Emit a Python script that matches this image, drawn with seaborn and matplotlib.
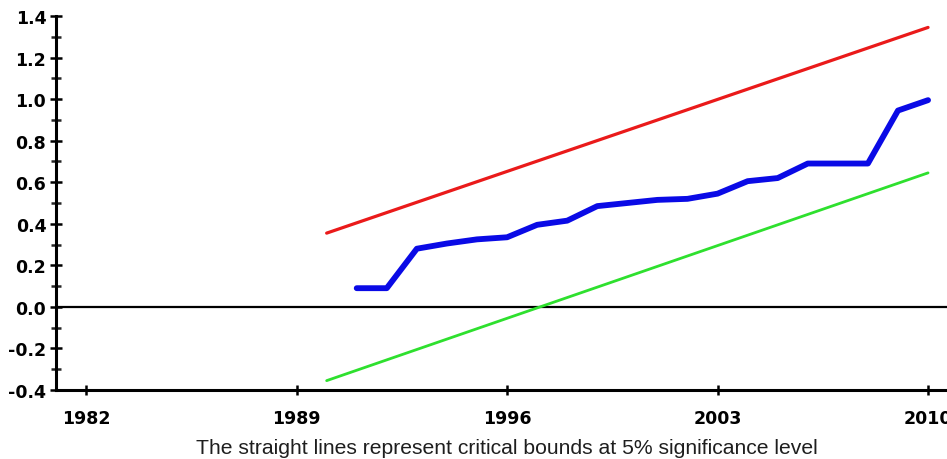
"""
CUSUM of squares test plot with 5% critical bounds.
"""

import pandas as pd
import matplotlib
matplotlib.use("Agg")
import matplotlib.pyplot as plt
from matplotlib.ticker import MultipleLocator
import seaborn as sns

# ---------------------------------------------------------------------------
# Data
# ---------------------------------------------------------------------------

BOUND_YEARS = [1990, 2010]
UPPER_BOUND = [0.355, 1.345]
LOWER_BOUND = [-0.355, 0.645]

CUSUM_YEARS = list(range(1991, 2011))
CUSUM_SQ = [0.09, 0.09, 0.28, 0.305, 0.325, 0.335, 0.395, 0.415, 0.485, 0.50,
            0.515, 0.52, 0.545, 0.605, 0.62, 0.69, 0.69, 0.69, 0.945, 0.995]

X_TICKS = [1982, 1989, 1996, 2003, 2010]
CAPTION = "The straight lines represent critical bounds at 5% significance level"


# ---------------------------------------------------------------------------
# Plot
# ---------------------------------------------------------------------------

sns.set_style("white")
plt.rcParams["font.family"] = ["DejaVu Sans"]
plt.rcParams["axes.unicode_minus"] = False

fig = plt.figure(figsize=(9.47, 4.60), dpi=100)
ax = fig.add_axes([56 / 947, 69 / 460, 1 - 56 / 947, 374 / 460])

bounds = pd.DataFrame({"year": BOUND_YEARS, "upper": UPPER_BOUND, "lower": LOWER_BOUND})
cusum = pd.DataFrame({"year": CUSUM_YEARS, "value": CUSUM_SQ})

ax.axhline(0, color="black", lw=1.6, zorder=1)
sns.lineplot(data=bounds, x="year", y="upper", color="#ea1a1a", lw=2.3, ax=ax, zorder=3)
sns.lineplot(data=bounds, x="year", y="lower", color="#2ee02e", lw=2.0, ax=ax, zorder=3)
sns.lineplot(data=cusum, x="year", y="value", color="#0a0ae6", lw=4.2, ax=ax, zorder=4)

ax.set_xlim(1981, 2010.63)
ax.set_ylim(-0.4, 1.4)
ax.set_xticks(X_TICKS)
ax.yaxis.set_major_locator(MultipleLocator(0.2))
ax.yaxis.set_minor_locator(MultipleLocator(0.1))
ax.yaxis.set_major_formatter(plt.FuncFormatter(lambda v, _: f"{v:.1f}"))

ax.set_xlabel("")
ax.set_ylabel("")

for side in ["top", "right"]:
    ax.spines[side].set_visible(False)
for side in ["left", "bottom"]:
    ax.spines[side].set_color("black")
    ax.spines[side].set_linewidth(2.2)

ax.tick_params(axis="y", which="major", direction="inout", length=8, width=1.8,
               left=True, pad=3, labelsize=12.5, colors="black")
ax.tick_params(axis="y", which="minor", direction="inout", length=7, width=1.8, left=True)
ax.tick_params(axis="x", which="major", direction="inout", length=7, width=1.8,
               bottom=True, pad=10, labelsize=12.5, colors="black")
for lbl in ax.get_xticklabels() + ax.get_yticklabels():
    lbl.set_fontweight("bold")

fig.text(0.5355, 11 / 460, CAPTION, ha="center", va="center", fontsize=15.2,
         family=["Liberation Sans", "DejaVu Sans"], color="#1e1e1e")

fig.savefig("out.png", dpi=100)
